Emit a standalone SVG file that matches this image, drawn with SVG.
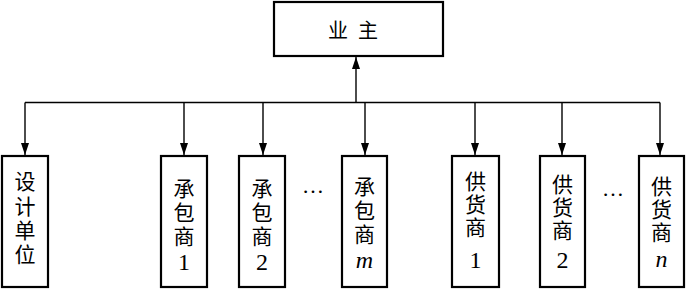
<svg xmlns="http://www.w3.org/2000/svg" width="688" height="289" viewBox="0 0 688 289">
<style>
.box{fill:#fff;stroke:#000;stroke-width:2.2}
.ln{fill:none;stroke:#000;stroke-width:1.4}
.cjk{font-family:"Noto Sans CJK SC","Noto Sans",sans-serif;font-size:21px;fill:#000;text-anchor:middle}
.v{font-family:"Noto Sans CJK SC","Noto Sans",sans-serif;font-size:21px;fill:#000;writing-mode:vertical-rl;text-orientation:upright}
.p24{letter-spacing:3px}
.p23{letter-spacing:2px}
.num{font-family:"Liberation Serif",serif;font-size:24px;fill:#000;text-anchor:middle}
.it{font-style:italic}
.dots{font-family:"Liberation Serif",serif;font-size:22px;fill:#000;text-anchor:middle}
</style>
<defs>
<marker id="ah" markerUnits="userSpaceOnUse" markerWidth="14" markerHeight="10" refX="12" refY="4" orient="auto">
<path d="M0,0 L12,4 L0,8 Z" fill="#000"/>
</marker>
</defs>
<g id="connectors">
<line class="ln" x1="25" y1="102.5" x2="660" y2="102.5"/>
<line class="ln" x1="356" y1="102.5" x2="356" y2="57" marker-end="url(#ah)"/>
<line class="ln" x1="25" y1="102.5" x2="25" y2="155" marker-end="url(#ah)"/>
<line class="ln" x1="184" y1="102.5" x2="184" y2="155" marker-end="url(#ah)"/>
<line class="ln" x1="263" y1="102.5" x2="263" y2="155" marker-end="url(#ah)"/>
<line class="ln" x1="365" y1="102.5" x2="365" y2="155" marker-end="url(#ah)"/>
<line class="ln" x1="475" y1="102.5" x2="475" y2="155" marker-end="url(#ah)"/>
<line class="ln" x1="562" y1="102.5" x2="562" y2="155" marker-end="url(#ah)"/>
<line class="ln" x1="660" y1="102.5" x2="660" y2="155" marker-end="url(#ah)"/>
</g>
<g id="owner">
<rect class="box" x="274" y="2" width="169" height="54"/>
<text class="cjk" y="38" style="font-size:20px"><tspan x="338">业</tspan><tspan x="368">主</tspan></text>
</g>
<g id="design">
<rect class="box" x="2" y="156" width="46" height="131"/>
<text class="v p24" x="25" y="171" style="letter-spacing:3.3px">设计单位</text>
</g>
<g id="contractor1">
<rect class="box" x="161" y="156" width="46" height="131"/>
<text class="v p24" x="184" y="177.5">承包商</text>
<text class="num" x="184" y="270">1</text>
</g>
<g id="contractor2">
<rect class="box" x="239" y="156" width="46" height="131"/>
<text class="v p24" x="262" y="177.5">承包商</text>
<text class="num" x="262" y="270">2</text>
</g>
<text class="dots" x="313" y="193">…</text>
<g id="contractorm">
<rect class="box" x="342" y="156" width="45" height="131"/>
<text class="v p24" x="364.5" y="176">承包商</text>
<text class="num it" x="364.5" y="268">m</text>
</g>
<g id="supplier1">
<rect class="box" x="452" y="156" width="47" height="131"/>
<text class="v p23" x="475.5" y="171">供货商</text>
<text class="num" x="475.5" y="268">1</text>
</g>
<g id="supplier2">
<rect class="box" x="540" y="156" width="45" height="131"/>
<text class="v p23" x="562.5" y="174">供货商</text>
<text class="num" x="562.5" y="268">2</text>
</g>
<text class="dots" x="613" y="196">…</text>
<g id="suppliern">
<rect class="box" x="639" y="156" width="45" height="131"/>
<text class="v p23" x="661.5" y="175.5">供货商</text>
<text class="num it" x="661.5" y="267">n</text>
</g>
</svg>
